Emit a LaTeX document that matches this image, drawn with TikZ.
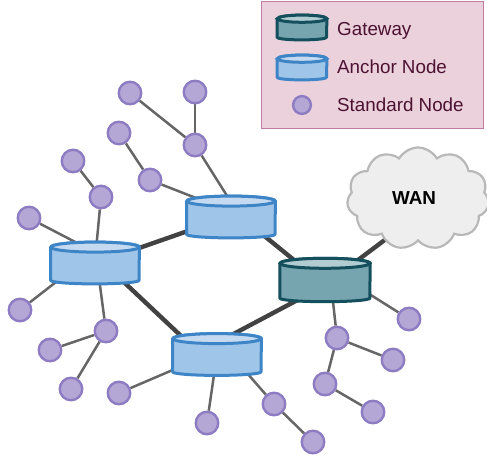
\documentclass[tikz,border=0pt]{standalone}
\usepackage{fontspec}
\setmainfont{Liberation Sans}
\usetikzlibrary{positioning,shapes.symbols,backgrounds}
\definecolor{gwfill}{HTML}{76A5AF}
\definecolor{gwtop}{HTML}{B2CDD2}
\definecolor{gwline}{HTML}{134F5C}
\definecolor{anfill}{HTML}{9FC5E8}
\definecolor{antop}{HTML}{C5DAF0}
\definecolor{anline}{HTML}{3D85C6}
\definecolor{stdfill}{HTML}{B4A7D6}
\definecolor{stdline}{HTML}{8E7CC3}
\definecolor{keyfill}{HTML}{EAD1DC}
\definecolor{keyline}{HTML}{C27BA0}
\definecolor{keytext}{HTML}{4C1130}
\tikzset{
  drum/.style n args={5}{ rectangle, inner sep=0pt, minimum width=2*#4,
    append after command={\pgfextra{
      \draw[draw=#3, fill=#1, line width=3bp, line join=round]
        ([yshift=-#5]\tikzlastnode.north west) -- ([yshift=0.7*#5]\tikzlastnode.south west)
        arc[start angle=180, end angle=360, x radius=#4, y radius=0.7*#5]
        -- ([yshift=-#5]\tikzlastnode.north east)
        arc[start angle=0, end angle=180, x radius=#4, y radius=#5];
      \draw[draw=#3, fill=#2, line width=3bp]
        ([yshift=-#5]\tikzlastnode.north) ellipse[x radius=#4, y radius=#5];
    }} },
  anchornode/.style = { drum={anfill}{antop}{anline}{44.2bp}{5bp}, minimum height=41.4bp },
  gatewaynode/.style = { drum={gwfill}{gwtop}{gwline}{45bp}{5bp}, minimum height=43bp },
  keyanchor/.style = { drum={anfill}{antop}{anline}{24.7bp}{3.6bp}, minimum height=24.4bp },
  keygateway/.style = { drum={gwfill}{gwtop}{gwline}{24.7bp}{3.6bp}, minimum height=24.4bp },
  stdnode/.style = { draw=stdline, fill=stdfill, circle, line width=2.4bp, inner sep=0pt, minimum size=22.5bp },
  keytxt/.style = { anchor=west, inner sep=0pt, text=keytext, font=\fontsize{18.8bp}{20bp}\selectfont },
  lnk/.style = { draw=black!60, line width=2.5bp },
  trunk/.style = { draw=black!74, line width=4.4bp }
}
\begin{document}
\begin{tikzpicture}[x=1bp,y=-1bp]
    \useasboundingbox (0,0) rectangle (487,455);

    % legend
    \node[draw=keyline, fill=keyfill, line width=1.4bp, minimum width=222bp, minimum height=127bp, inner sep=0pt] (key) at (372.5,65) {};
    \node[keygateway] (kg) at (302,27.5) {};
    \node[keyanchor] (ka) at (302,67.5) {};
    \node[stdnode, minimum size=17.8bp] (ks) at (302,105) {};
    \node[keytxt] (tg) at (337,30.5) {Gateway};
    \node[keytxt] (ta) at (337,67) {Anchor Node};
    \node[keytxt] (ts) at (337,105) {Standard Node};

    % backbone
    \node[gatewaynode] (gw) at (325,280) {};
    \node[anchornode] (a1) at (231,217) {};
    \node[anchornode] (a2) at (95,263) {};
    \node[anchornode] (a3) at (217,354.5) {};
    \node[draw=black!28, fill=black!6.5, line width=2.2bp, cloud, cloud puffs=11, cloud puff arc=120, aspect=1.4,
      minimum width=142bp, minimum height=102bp, inner sep=0pt, font=\fontsize{18.8bp}{20bp}\selectfont\bfseries] (wan) at (418,198.5) {\hspace{-8bp}WAN};

    % standard nodes
    \node[stdnode] (s1) at (130,93) {};
    \node[stdnode] (s2) at (195,92) {};
    \node[stdnode] (s3) at (195,145) {};
    \node[stdnode] (s4) at (119,133) {};
    \node[stdnode] (s5) at (150,180) {};
    \node[stdnode] (s6) at (73,161) {};
    \node[stdnode] (s7) at (101,197) {};
    \node[stdnode] (s8) at (29,218) {};
    \node[stdnode] (s9) at (20,310) {};
    \node[stdnode] (s10) at (106,331) {};
    \node[stdnode] (s11) at (50,350) {};
    \node[stdnode] (s12) at (71,389) {};
    \node[stdnode] (s13) at (119,393) {};
    \node[stdnode] (s14) at (207,423) {};
    \node[stdnode] (s15) at (274,404) {};
    \node[stdnode] (s16) at (313,442) {};
    \node[stdnode] (s17) at (337,338) {};
    \node[stdnode] (s18) at (409,319) {};
    \node[stdnode] (s19) at (393,360) {};
    \node[stdnode] (s20) at (325,384) {};
    \node[stdnode] (s21) at (373,412) {};

    \begin{scope}[on background layer]
    \path[trunk] ([shift={(37,-12.5)}]a2.center) edge ([shift={(-36,11.5)}]a1.center);
    \path[trunk] ([shift={(22,12.6)}]a2.center) edge ([shift={(-29,-12)}]a3.center);
    \path[trunk] ([shift={(26,13)}]a1.center) edge ([shift={(-23,-13.5)}]gw.center);
    \path[trunk] ([shift={(8,-16)}]a3.center) edge ([shift={(-18,15)}]gw.center);
    \path[trunk] ([shift={(25,-14)}]gw.center) edge ([shift={(-18,30)}]wan.center);
    \path[lnk] (s1) edge (s3);
    \path[lnk] (s2) edge (s3);
    \path[lnk] (s3) edge ([shift={(-2,-18)}]a1.center);
    \path[lnk] (s4) edge (s5);
    \path[lnk] (s5) edge ([shift={(-30,-17)}]a1.center);
    \path[lnk] (s6) edge (s7);
    \path[lnk] (s7) edge ([shift={(1,-13)}]a2.center);
    \path[lnk] (s8) edge ([shift={(-14,-18)}]a2.center);
    \path[lnk] (s9) edge ([shift={(-30,12)}]a2.center);
    \path[lnk] (s10) edge ([shift={(4,15)}]a2.center);
    \path[lnk] (s10) edge (s11);
    \path[lnk] (s10) edge (s12);
    \path[lnk] (s13) edge ([shift={(-35,11.5)}]a3.center);
    \path[lnk] (s14) edge ([shift={(-2,13.5)}]a3.center);
    \path[lnk] (s15) edge ([shift={(23,10.5)}]a3.center);
    \path[lnk] (s15) edge (s16);
    \path[lnk] (s17) edge ([shift={(7,12.5)}]gw.center);
    \path[lnk] (s18) edge ([shift={(37,9.5)}]gw.center);
    \path[lnk] (s17) edge (s19);
    \path[lnk] (s17) edge (s20);
    \path[lnk] (s20) edge (s21);
    \end{scope}
\end{tikzpicture}
\end{document}
